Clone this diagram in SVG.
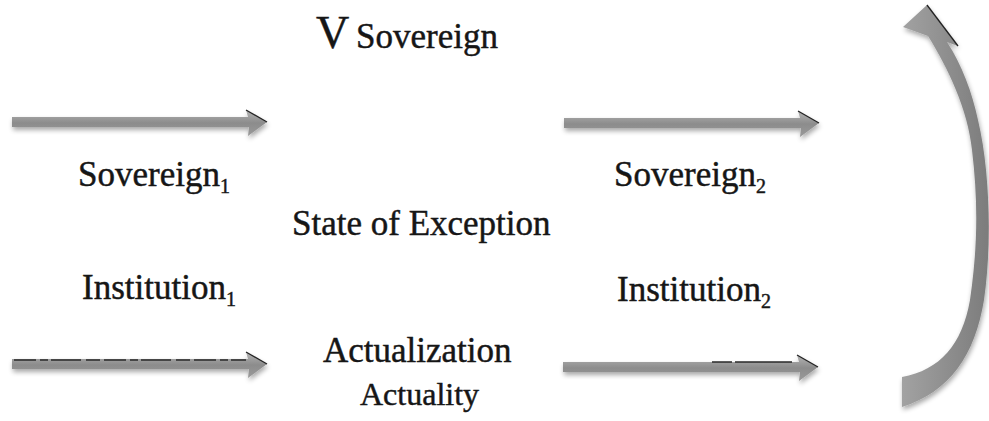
<svg xmlns="http://www.w3.org/2000/svg" width="989" height="421" viewBox="0 0 989 421">
  <style>
    .lbl { font-family: "Liberation Serif", "Times New Roman", serif; fill: #161616; stroke: #161616; stroke-width: 0.45px; font-size: 35px; }
    .sub { font-size: 20px; }
    .edge { fill: none; stroke: #222; stroke-width: 1.3; }
  </style>
  <defs>
    <linearGradient id="shaft" x1="0" y1="0" x2="0" y2="1">
      <stop offset="0" stop-color="#b4b4b4"/>
      <stop offset="0.5" stop-color="#8c8c8c"/>
      <stop offset="1" stop-color="#9a9a9a"/>
    </linearGradient>
    <linearGradient id="arc" x1="0" y1="0" x2="1" y2="0">
      <stop offset="0" stop-color="#a2a2a2"/>
      <stop offset="1" stop-color="#7c7c7c"/>
    </linearGradient>
    <filter id="soft" x="-10%" y="-60%" width="120%" height="220%">
      <feGaussianBlur in="SourceAlpha" stdDeviation="2.5"/>
      <feOffset dx="1" dy="3" result="b"/>
      <feComponentTransfer><feFuncA type="linear" slope="0.35"/></feComponentTransfer>
      <feMerge><feMergeNode/><feMergeNode in="SourceGraphic"/></feMerge>
    </filter>
    <!-- straight block arrow, tail at x=0, tip at x=255 -->
    <g id="blockArrow">
      <path d="M0,-5 L236,-5 L234,-12 L255,0 L236,14 L237,5 L0,5 Z" fill="url(#shaft)" filter="url(#soft)"/>
      <path class="edge" d="M234,-12 L255,0"/>
    </g>
  </defs>

  <g id="connectors">
    <use href="#blockArrow" transform="translate(12,122)"/>
    <use href="#blockArrow" transform="translate(564,123)"/>
    <use href="#blockArrow" transform="translate(12,364)"/>
    <use href="#blockArrow" transform="translate(563,367)"/>
    <!-- dashed edge traces on the lower arrows -->
    <path d="M14,360 H246" stroke="#2a2a2a" stroke-width="1.4" stroke-dasharray="22 4 8 3 30 5 14 4" fill="none"/>
    <path d="M712,362 H792" stroke="#2a2a2a" stroke-width="1.4" stroke-dasharray="20 3 60" fill="none"/>
    <!-- curved return arrow on the right, head at the top -->
    <g filter="url(#soft)">
      <path d="M902,407 C950,392 975,355 984,300 C992,245 990,170 978,120 C972,92 962,65 947,42 L958,46 L927,5 L903,27 L928,36 C948,68 968,110 972,150 C978,200 978,245 970,300 C962,345 940,370 902,377 Z" fill="url(#arc)"/>
    </g>
    <path class="edge" d="M927,5 L958,46"/>
  </g>

  <g id="node-vsovereign">
    <text class="lbl" x="316" y="48" style="font-size:46px">V</text>
    <text class="lbl" x="356" y="48">Sovereign</text>
  </g>
  <g id="node-sovereign1">
    <text class="lbl" x="78" y="186">Sovereign<tspan class="sub" dy="7">1</tspan></text>
  </g>
  <g id="node-sovereign2">
    <text class="lbl" x="614" y="186">Sovereign<tspan class="sub" dy="7">2</tspan></text>
  </g>
  <g id="node-exception">
    <text class="lbl" x="292" y="235">State of Exception</text>
  </g>
  <g id="node-institution1">
    <text class="lbl" x="82" y="299">Institution<tspan class="sub" dy="7">1</tspan></text>
  </g>
  <g id="node-institution2">
    <text class="lbl" x="617" y="301">Institution<tspan class="sub" dy="7">2</tspan></text>
  </g>
  <g id="node-actualization">
    <text class="lbl" x="323" y="362">Actualization</text>
  </g>
  <g id="node-actuality">
    <text class="lbl" x="360" y="405" style="font-size:32px">Actuality</text>
  </g>
</svg>
